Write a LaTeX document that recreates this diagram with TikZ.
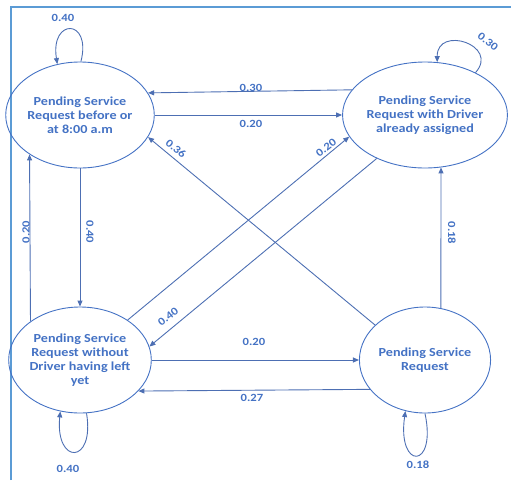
\documentclass[tikz,border=0pt]{standalone}
\usepackage{fontspec}
\setmainfont{Carlito}[FakeStretch=1.15]
\usetikzlibrary{arrows.meta,shapes.geometric}
\definecolor{txtblue}{HTML}{4472C4}
\definecolor{edgeblue}{HTML}{4D6FB3}
\definecolor{framblue}{HTML}{5B9BD5}
\tikzset{
  state/.style={ellipse,draw=txtblue,line width=0.9pt,minimum width=130pt,minimum height=106pt,
    inner sep=0pt,align=center,text=txtblue,font=\fontsize{12.3}{14}\selectfont\bfseries},
  trans/.style={draw=edgeblue,line width=0.9pt,-{Triangle[length=6pt,width=5pt]}},
  prob/.style={text=txtblue,font=\fontsize{11}{12}\selectfont\bfseries,inner sep=0pt}
}
\begin{document}
\begin{tikzpicture}[x=1pt,y=-1pt]
\useasboundingbox (0,0) rectangle (511,480);
% frame
\draw[framblue,line width=1.6pt] (11,480) -- (11,7) -- (511,7);

% states
\node[state] (A) at (80,115) {Pending Service\\Request before or\\at 8:00 a.m};
\node[state] (B) at (425,115) {Pending Service\\Request with Driver\\already assigned};
\node[state] (C) at (80,360) {Pending Service\\Request without\\Driver having left\\yet};
\node[state] (D) at (425,360) {Pending Service\\Request};

% horizontal transitions
\draw[trans] (B.161.6) -- (A.18.4);
\draw[trans] (A.east) -- (B.west);
\draw[trans] (C.east) -- (D.west);
\draw[trans] (D.208) -- (C.-28);

% vertical transitions
\draw[trans] (A.south) -- (C.north);
\draw[trans] (C.142) -- (A.218);
\draw[trans] (D.73.8) -- (B.-73.8);

% diagonal transitions
\draw[trans] (D.145) -- (A.-18);
\draw[trans] (C.40) -- (B.196);
\draw[trans] (B.222) -- (C.11);

% self loops
\draw[trans] (A.89) .. controls (92,18) and (50,18) .. (A.114);
\draw[trans] (B.40) .. controls (500,45) and (437,25) .. (B.77);
\draw[trans] (C.-83) .. controls (95,465) and (55,465) .. (C.249);
\draw[trans] (D.-90) .. controls (437,470) and (397,470) .. (D.249);

% probabilities
\node[prob] (pAA) at (63,18) {0.40};
\node[prob,rotate=-38] (pBB) at (488,42) {0.30};
\node[prob] (pCC) at (68,469) {0.40};
\node[prob] (pDD) at (418,465) {0.18};
\node[prob] (pBA) at (251,88) {0.30};
\node[prob] (pAB) at (251,124) {0.20};
\node[prob] (pCD) at (254,342) {0.20};
\node[prob] (pDC) at (252,398) {0.27};
\node[prob,rotate=-90] (pAC) at (90,232) {0.40};
\node[prob,rotate=90] (pCA) at (26,232) {0.20};
\node[prob,rotate=-90] (pDB) at (452,233) {0.18};
\node[prob,rotate=-39] (pDA) at (176,149) {0.36};
\node[prob,rotate=38] (pCB) at (326,148) {0.20};
\node[prob,rotate=38] (pBC) at (168,317) {0.40};
\end{tikzpicture}
\end{document}
